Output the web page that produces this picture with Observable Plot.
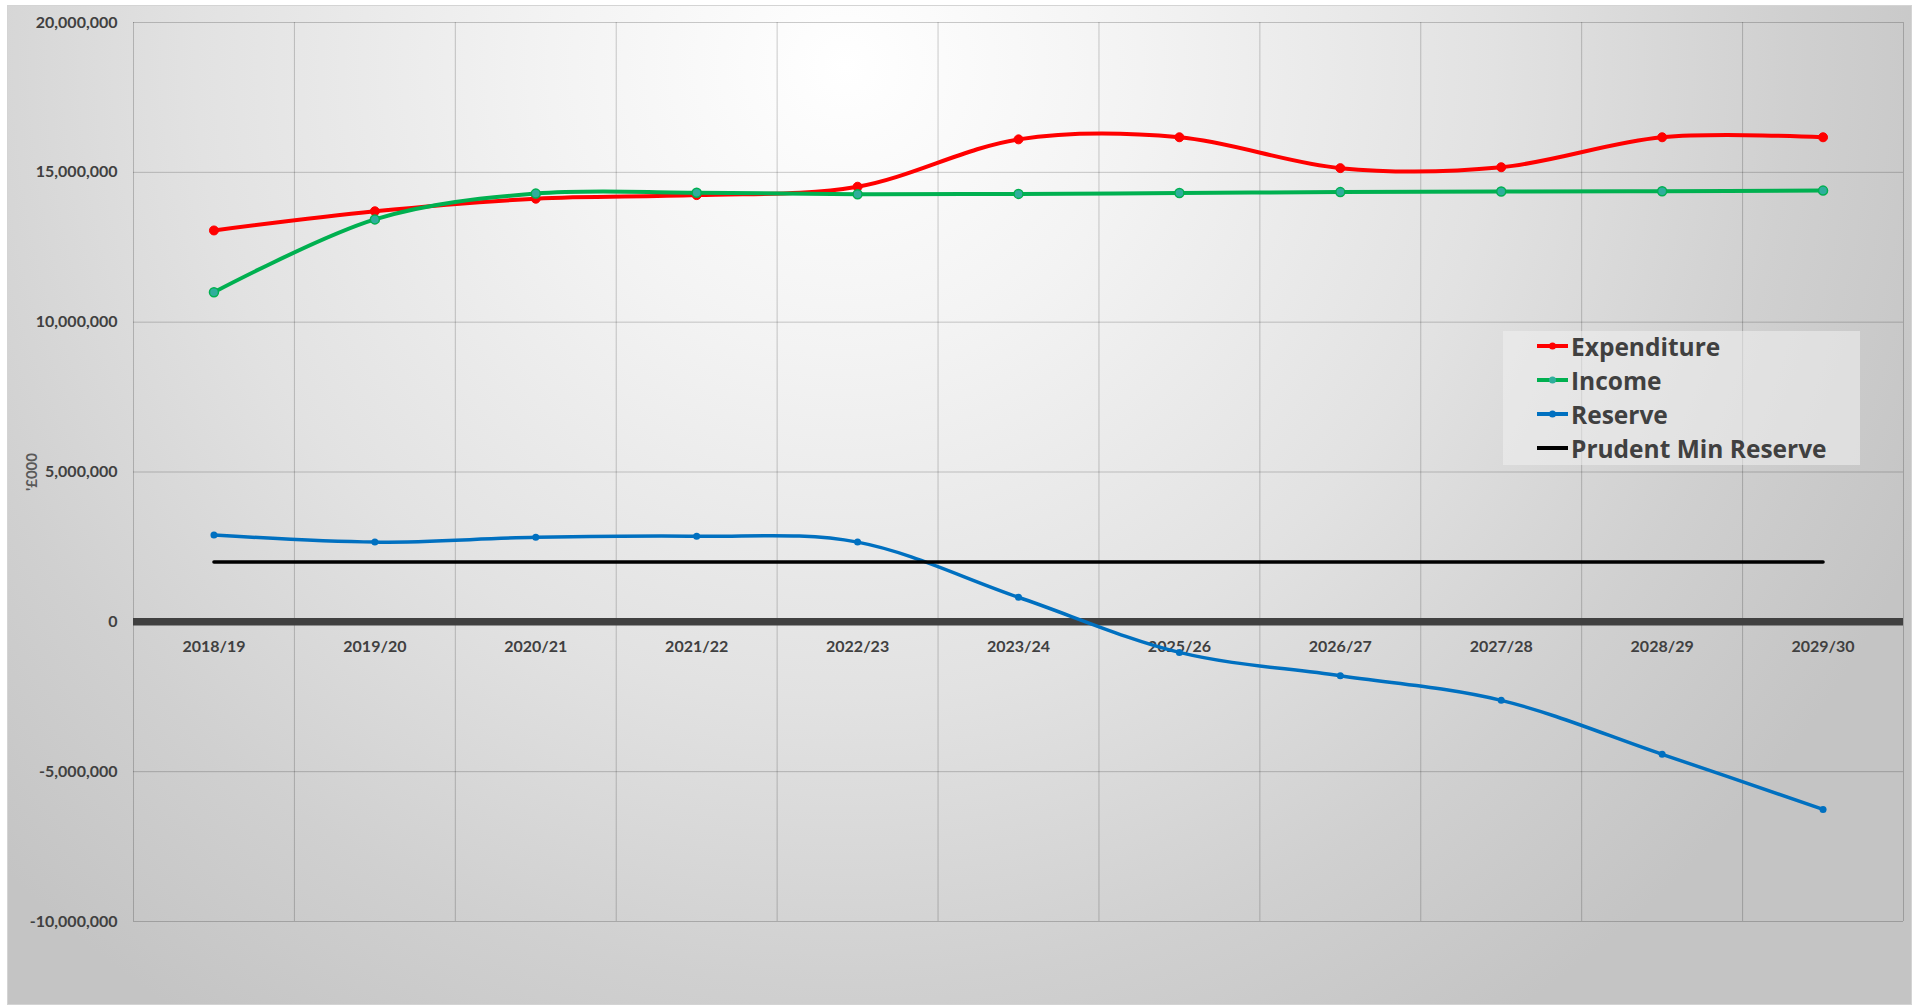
<!DOCTYPE html>
<html>
<head>
<meta charset="utf-8">
<script src="https://cdn.jsdelivr.net/npm/d3@7"></script>
<script src="https://cdn.jsdelivr.net/npm/@observablehq/plot@0.6"></script>
<style>
  html, body { margin: 0; padding: 0; background: #ffffff; width: 1919px; height: 1005px; overflow: hidden; }
  #bg {
    position: absolute; left: 7px; top: 5px; width: 1905px; height: 1000px; box-sizing: border-box;
    border: 1px solid #d4d4d4;
    background: radial-gradient(ellipse 62% 115% at 44% 6%, #ffffff 0%, #f3f3f3 25%, #e2e2e2 55%, #d0d0d0 80%, #c4c4c4 100%);
  }
  #chart { position: absolute; left: 0; top: 0; }
  #ylabel {
    position: absolute; left: 31px; top: 472px; transform: translate(-50%, -50%) rotate(-90deg);
    font: bold 15px Lato, "Open Sans", sans-serif; color: #595959; white-space: nowrap;
  }
  #legend {
    position: absolute; left: 1503px; top: 331px; width: 357px; height: 134px; box-sizing: border-box;
    background: rgba(240, 240, 240, 0.55);
    font: bold 24.5px "Open Sans", Lato, sans-serif; color: #404040;
  }
  .row { position: absolute; left: 34px; height: 34px; display: flex; align-items: center; }
  .row svg { margin-right: 3px; }
</style>
</head>
<body>
<div id="bg"></div>
<div id="chart"></div>
<div id="ylabel">'£000</div>
<div id="legend"></div>
<script>
const years = ["2018/19", "2019/20", "2020/21", "2021/22", "2022/23", "2023/24", "2025/26", "2026/27", "2027/28", "2028/29", "2029/30"];
const expenditure = [13060000, 13700000, 14120000, 14240000, 14520000, 16100000, 16170000, 15140000, 15170000, 16170000, 16170000];
const income = [11000000, 13430000, 14290000, 14320000, 14270000, 14280000, 14310000, 14340000, 14360000, 14370000, 14390000];
const reserve = [2900000, 2660000, 2820000, 2860000, 2660000, 820000, -1020000, -1800000, -2620000, -4420000, -6260000];
const prudentMin = [2000000, 2000000, 2000000, 2000000, 2000000, 2000000, 2000000, 2000000, 2000000, 2000000, 2000000];
const yTicks = [-10000000, -5000000, 0, 5000000, 10000000, 15000000, 20000000];

const seriesInfo = [
  {name: "Expenditure", color: "#ff0000", fill: "#ff0000", marker: true},
  {name: "Income", color: "#00b050", fill: "#2fae9c", marker: true},
  {name: "Reserve", color: "#0070c0", fill: "#0070c0", marker: true},
  {name: "Prudent Min Reserve", color: "#000000", fill: "#000000", marker: false}
];

const rows = years.map((year, i) => ({
  i, year,
  expenditure: expenditure[i],
  income: income[i],
  reserve: reserve[i],
  prudent: prudentMin[i]
}));

const gridStyle = {stroke: "#000", strokeOpacity: 0.2, strokeWidth: 1};

const chart = Plot.plot({
  width: 1919,
  height: 1005,
  marginLeft: 133,
  marginRight: 16,
  marginTop: 22,
  marginBottom: 84,
  style: {background: "transparent", fontFamily: "Lato, 'Open Sans', sans-serif", fontWeight: "bold", color: "#404040", overflow: "visible"},
  x: {domain: [-0.5, years.length - 0.5], axis: null},
  y: {domain: [-10000000, 20000000], axis: null},
  marks: [
    Plot.ruleY(yTicks, gridStyle),
    Plot.ruleX(d3.range(-0.5, years.length), gridStyle),
    Plot.ruleY([0], {stroke: "#404040", strokeWidth: 7.5}),
    Plot.axisY({ticks: yTicks, tickSize: 0, tickPadding: 16, tickFormat: d => d.toLocaleString("en-US"), fontSize: 16, fontWeight: "bold", fill: "#404040", label: null}),
    Plot.text(rows, {x: "i", y: () => 0, text: "year", dy: 25, fontSize: 16, fontWeight: "bold", fill: "#404040"}),
    Plot.line(rows, {x: "i", y: "expenditure", stroke: "#ff0000", strokeWidth: 4, curve: "cardinal"}),
    Plot.dot(rows, {x: "i", y: "expenditure", r: 4.5, fill: "#ff0000", stroke: "#ff0000", strokeWidth: 1}),
    Plot.line(rows, {x: "i", y: "income", stroke: "#00b050", strokeWidth: 4, curve: "cardinal"}),
    Plot.dot(rows, {x: "i", y: "income", r: 4.5, fill: "#2fae9c", stroke: "#00b050", strokeWidth: 1.5}),
    Plot.line(rows, {x: "i", y: "reserve", stroke: "#0070c0", strokeWidth: 3.5, curve: "cardinal"}),
    Plot.dot(rows, {x: "i", y: "reserve", r: 3.5, fill: "#0070c0"}),
    Plot.line(rows, {x: "i", y: "prudent", stroke: "#000000", strokeWidth: 3.5})
  ]
});
document.getElementById("chart").appendChild(chart);

const legend = document.getElementById("legend");
seriesInfo.forEach((s, k) => {
  const row = document.createElement("div");
  row.className = "row";
  row.style.top = (k * 34 - 2) + "px";
  row.innerHTML = `<svg width="31" height="10"><line x1="0" y1="5" x2="31" y2="5" stroke="${s.color}" stroke-width="4"/>` +
    (s.marker ? `<circle cx="15.5" cy="5" r="3.5" fill="${s.fill}"/>` : "") + `</svg><span>${s.name}</span>`;
  legend.appendChild(row);
});
</script>
</body>
</html>
